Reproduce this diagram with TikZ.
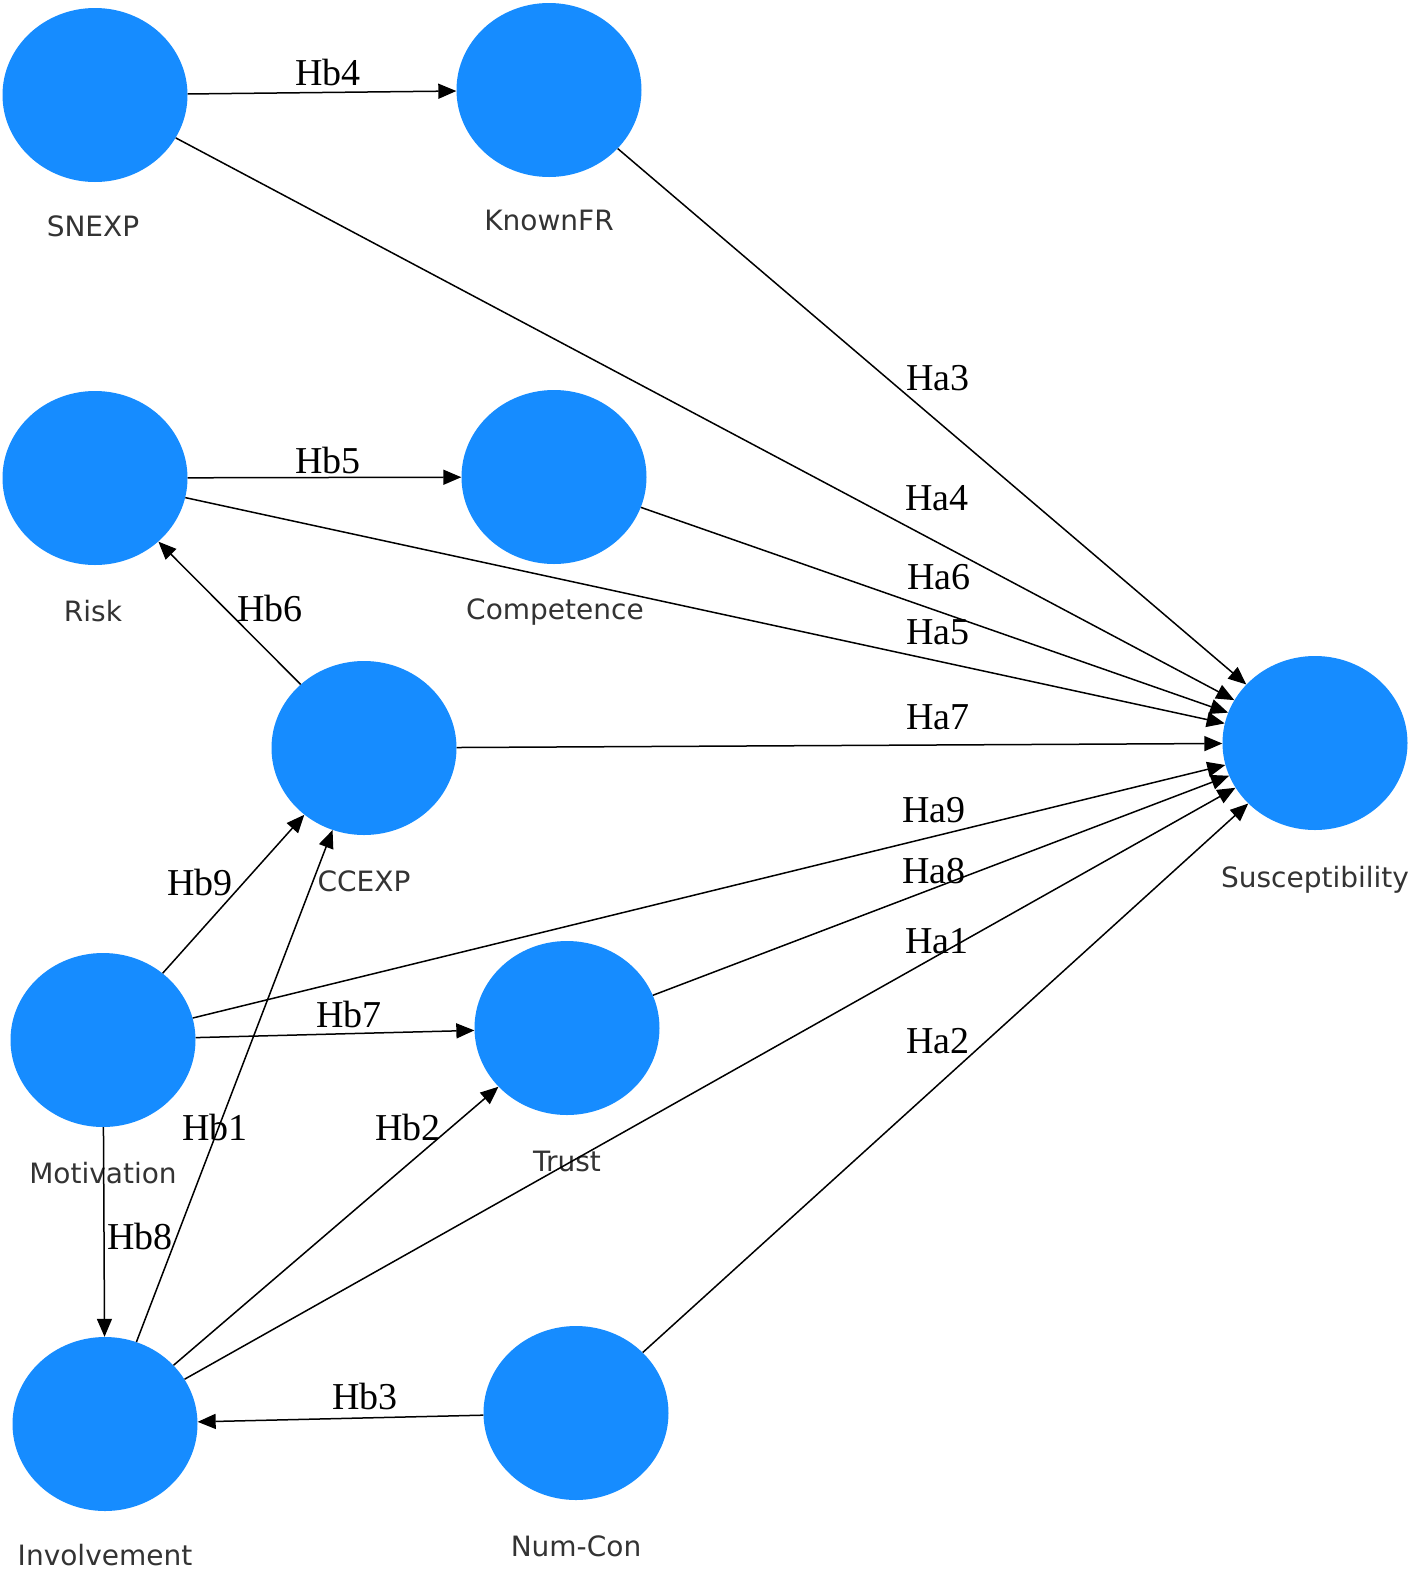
\documentclass[tikz,border=0pt]{standalone}
\usepackage{fontspec}
\usetikzlibrary{shapes.geometric,arrows.meta}
\newfontfamily\labfont{DejaVu Sans}
\newfontfamily\hypfont{Liberation Serif}
\definecolor{lvblue}{RGB}{22,140,255}
\begin{document}
\begin{tikzpicture}[x=1pt,y=-1pt,
  latent/.style={ellipse, fill=lvblue, draw=none, minimum width=185pt, minimum height=174pt, inner sep=0pt},
  nlab/.style={anchor=base, inner sep=0pt, font=\labfont\fontsize{28}{30}\selectfont, text=black!80},
  hlab/.style={anchor=base, inner sep=0pt, font=\hypfont\fontsize{38}{40}\selectfont},
  rel/.style={draw, line width=1.5pt, -{Triangle[length=18pt,width=15pt]}}]
\useasboundingbox (0,0) rectangle (1418,1575);
\fill[white] (0,0) rectangle (1418,1575);
% constructs
\node[latent] (snexp) at (95,95) {};
\node[latent] (known) at (549,90) {};
\node[latent] (risk) at (95,478) {};
\node[latent] (comp) at (554,477) {};
\node[latent] (ccexp) at (364,748) {};
\node[latent] (susc) at (1315,743) {};
\node[latent] (motiv) at (103,1040) {};
\node[latent] (trust) at (567,1028) {};
\node[latent] (invol) at (105,1424) {};
\node[latent] (numcon) at (576,1413) {};
% construct labels
\node[nlab] (lsnexp) at (93,236) {SNEXP};
\node[nlab] (lknown) at (549,230) {KnownFR};
\node[nlab] (lrisk) at (93,621) {Risk};
\node[nlab] (lcomp) at (555,619) {Competence};
\node[nlab] (lccexp) at (364,891) {CCEXP};
\node[nlab] (lsusc) at (1315,887) {Susceptibility};
\node[nlab] (lmotiv) at (103,1183) {Motivation};
\node[nlab] (ltrust) at (567,1171) {Trust};
\node[nlab] (linvol) at (105,1565) {Involvement};
\node[nlab] (lnumcon) at (576,1556) {Num-Con};
% paths
\draw[rel] (snexp) -- (known);
\draw[rel] (snexp) -- (susc);
\draw[rel] (known) -- (susc);
\draw[rel] (risk) -- (comp);
\draw[rel] (risk) -- (susc);
\draw[rel] (comp) -- (susc);
\draw[rel] (ccexp) -- (risk);
\draw[rel] (ccexp) -- (susc);
\draw[rel] (motiv) -- (susc);
\draw[rel] (trust) -- (susc);
\draw[rel] (invol) -- (susc);
\draw[rel] (numcon) -- (susc);
\draw[rel] (motiv) -- (ccexp);
\draw[rel] (invol) -- (ccexp);
\draw[rel] (motiv) -- (trust);
\draw[rel] (invol) -- (trust);
\draw[rel] (motiv) -- (invol);
\draw[rel] (numcon) -- (invol);
% hypothesis labels
\node[hlab] (hb4) at (328,85) {Hb4};
\node[hlab] (hb5) at (328,473) {Hb5};
\node[hlab] (hb6) at (270,621) {Hb6};
\node[hlab] (hb9) at (200,895) {Hb9};
\node[hlab] (hb1) at (215,1140) {Hb1};
\node[hlab] (hb7) at (349,1027) {Hb7};
\node[hlab] (hb2) at (408,1140) {Hb2};
\node[hlab] (hb8) at (140,1249) {Hb8};
\node[hlab] (hb3) at (365,1409) {Hb3};
\node[hlab] (ha3) at (938,390) {Ha3};
\node[hlab] (ha4) at (937,510) {Ha4};
\node[hlab] (ha6) at (939,589) {Ha6};
\node[hlab] (ha5) at (938,644) {Ha5};
\node[hlab] (ha7) at (938,729) {Ha7};
\node[hlab] (ha9) at (934,822) {Ha9};
\node[hlab] (ha8) at (934,883) {Ha8};
\node[hlab] (ha1) at (937,953) {Ha1};
\node[hlab] (ha2) at (938,1053) {Ha2};
\end{tikzpicture}
\end{document}
